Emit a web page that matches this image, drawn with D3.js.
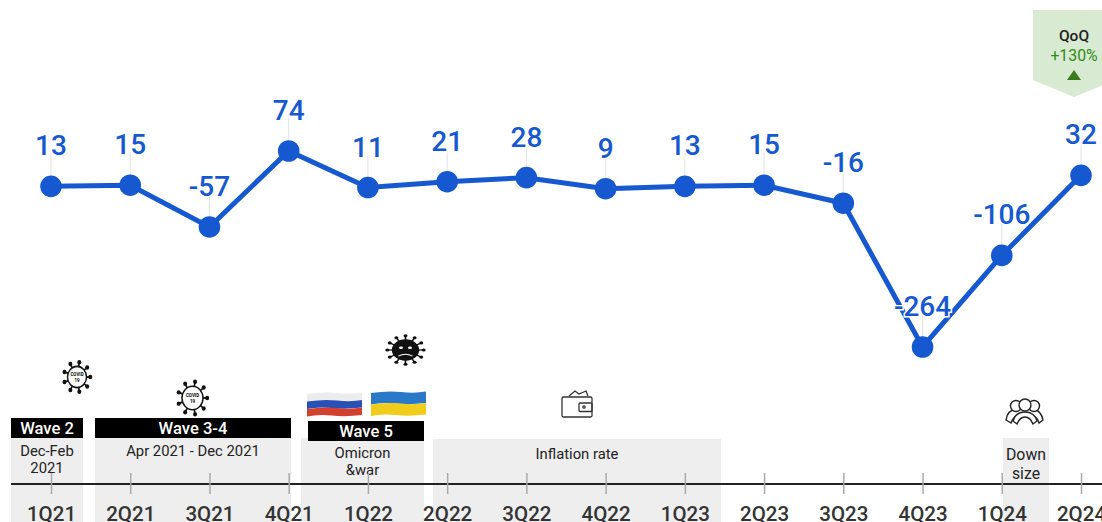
<!DOCTYPE html>
<html>
<head>
<meta charset="utf-8">
<script src="https://cdn.jsdelivr.net/npm/d3@7"></script>
<style>
  html, body { margin: 0; padding: 0; background: #fff; overflow: hidden; }
  svg { display: block; }
  text { font-family: Roboto, sans-serif; }
</style>
</head>
<body>
<svg id="chart" width="1102" height="522"></svg>
<script>
const quarters = ['1Q21', '2Q21', '3Q21', '4Q21', '1Q22', '2Q22', '3Q22', '4Q22', '1Q23', '2Q23', '3Q23', '4Q23', '1Q24', '2Q24'];
const values = [13, 15, -57, 74, 11, 21, 28, 9, 13, 15, -16, -264, -106, 32];
const waves = ['Wave 2', 'Wave 3-4', 'Wave 5'];
const eventNotes = [['Dec-Feb', '2021'], ['Apr 2021 - Dec 2021'], ['Omicron', '&war'], ['Inflation rate'], ['Down', 'size']];
const qoqTitle = 'QoQ';
const qoqChange = '+130%';

const BLUE = '#1558d0';
const BAND = '#eeeeee';
const GREEN = '#2f8a12';

const svg = d3.select('#chart');
const x = d3.scalePoint().domain(quarters).range([51, 1081]);
const y = d3.scaleLinear().domain([-264, 74]).range([347, 151]);

// grey bands sit behind the axis
const bands = [
  { x0: 11, x1: 83, top: 438, note: 0, textY: 456, gap: 17, size: 14.8 },
  { x0: 95, x1: 291, top: 438, note: 1, textY: 456, gap: 17, size: 14.8 },
  { x0: 301, x1: 424, top: 438, note: 2, textY: 458, gap: 17, size: 14.8 },
  { x0: 433, x1: 721, top: 439, note: 3, textY: 459, gap: 17, size: 14.8 },
  { x0: 1003, x1: 1049, top: 438, note: 4, textY: 460, gap: 19, size: 15.8 }
];
svg.selectAll('.band')
  .data(bands)
  .enter()
  .append('rect')
  .attr('class', 'band')
  .attr('x', (d) => d.x0)
  .attr('y', (d) => d.top)
  .attr('width', (d) => d.x1 - d.x0)
  .attr('height', (d) => 522 - d.top)
  .attr('fill', BAND);

bands.forEach((b) => {
  const t = svg.append('text')
    .attr('text-anchor', 'middle')
    .attr('font-size', b.size)
    .attr('fill', '#222');
  eventNotes[b.note].forEach((line, i) => {
    t.append('tspan')
      .attr('x', (b.x0 + b.x1) / 2)
      .attr('y', b.textY + i * b.gap)
      .text(line);
  });
});

// black wave headers
const waveBoxes = [
  { x0: 11, x1: 83, top: 418, bottom: 438 },
  { x0: 95, x1: 291, top: 418, bottom: 438 },
  { x0: 308, x1: 424, top: 421, bottom: 441 }
];
waveBoxes.forEach((b, i) => {
  svg.append('rect')
    .attr('x', b.x0).attr('y', b.top)
    .attr('width', b.x1 - b.x0).attr('height', b.bottom - b.top)
    .attr('fill', '#000');
  svg.append('text')
    .attr('x', (b.x0 + b.x1) / 2)
    .attr('y', b.bottom - 4)
    .attr('text-anchor', 'middle')
    .attr('font-size', 16.6)
    .attr('font-weight', 500)
    .attr('fill', '#fff')
    .text(waves[i]);
});

// timeline axis
const axis = svg.append('g')
  .attr('transform', 'translate(0,484)')
  .call(d3.axisBottom(x).tickSize(10).tickPadding(0));
axis.select('.domain').remove();
axis.insert('line', ':first-child')
  .attr('x1', 11).attr('x2', 1102)
  .attr('stroke', '#222')
  .attr('stroke-width', 2);
axis.selectAll('.tick line')
  .attr('y1', -11)
  .attr('stroke', '#aaa')
  .attr('stroke-width', 1.5);
// labels run down to the picture's bottom edge, as in the reference
axis.selectAll('.tick text')
  .attr('dy', null)
  .attr('y', 36.5)
  .attr('font-family', 'Roboto, sans-serif')
  .attr('font-size', 20.5)
  .attr('font-weight', 500)
  .attr('fill', '#333');

// leader lines from each point up to its label
const labelGap = 33;
svg.selectAll('.leader')
  .data(values)
  .enter()
  .append('line')
  .attr('class', 'leader')
  .attr('x1', (_, i) => x(quarters[i]))
  .attr('x2', (_, i) => x(quarters[i]))
  .attr('y1', (d) => y(d))
  .attr('y2', (d) => y(d) - labelGap)
  .attr('stroke', '#e2e2e2')
  .attr('stroke-width', 1);

const line = d3.line()
  .x((_, i) => x(quarters[i]))
  .y((d) => y(d));

svg.append('path')
  .datum(values)
  .attr('fill', 'none')
  .attr('stroke', BLUE)
  .attr('stroke-width', 5)
  .attr('d', line);

svg.selectAll('.dot')
  .data(values)
  .enter()
  .append('circle')
  .attr('class', 'dot')
  .attr('cx', (_, i) => x(quarters[i]))
  .attr('cy', (d) => y(d))
  .attr('r', 10.8)
  .attr('fill', BLUE);

svg.selectAll('.value')
  .data(values)
  .enter()
  .append('text')
  .attr('class', 'value')
  .attr('x', (_, i) => x(quarters[i]))
  .attr('y', (d) => y(d) - 31)
  .attr('text-anchor', 'middle')
  .attr('font-size', 28)
  .attr('font-weight', 500)
  .attr('fill', BLUE)
  .attr('stroke', '#fff')
  .attr('stroke-width', 3)
  .attr('paint-order', 'stroke')
  .text((d) => d);

// QoQ callout
const qoqX = 1074;
svg.append('path')
  .attr('d', `M1033,10H1102V85.4L${qoqX},97L1033,80Z`)
  .attr('fill', '#d9ead3');
svg.append('text')
  .attr('x', qoqX).attr('y', 41)
  .attr('text-anchor', 'middle')
  .attr('font-size', 15.5)
  .attr('font-weight', 500)
  .attr('fill', '#222')
  .text(qoqTitle);
svg.append('text')
  .attr('x', qoqX).attr('y', 61)
  .attr('text-anchor', 'middle')
  .attr('font-size', 15.8)
  .attr('fill', GREEN)
  .text(qoqChange);
svg.append('path')
  .attr('d', `M${qoqX - 7},80L${qoqX},70L${qoqX + 7},80Z`)
  .attr('fill', '#3a7a1a');

// virus icons: ring with spikes
function drawVirus(cx, cy, r, solid, sy) {
  const g = svg.append('g').attr('transform', `translate(${cx},${cy}) scale(1,${sy})`);
  const spikes = d3.range(solid ? 12 : 9);
  spikes.forEach((i) => {
    const a = (i / spikes.length) * 2 * Math.PI;
    const inner = r - 1;
    const outer = r * 1.4;
    g.append('line')
      .attr('x1', Math.cos(a) * inner).attr('y1', Math.sin(a) * inner)
      .attr('x2', Math.cos(a) * outer).attr('y2', Math.sin(a) * outer)
      .attr('stroke', '#111').attr('stroke-width', 1.6);
    g.append('circle')
      .attr('cx', Math.cos(a) * outer).attr('cy', Math.sin(a) * outer)
      .attr('r', 2).attr('fill', '#111');
  });
  g.append('circle')
    .attr('r', r)
    .attr('fill', solid ? '#111' : '#fff')
    .attr('stroke', '#111')
    .attr('stroke-width', 1.4);
  return g;
}
[[77, 377, 9.5], [192.5, 398, 10.5]].forEach(([cx, cy, r]) => {
  const g = drawVirus(cx, cy, r, false, 1.12);
  g.append('text').attr('y', -0.5).attr('text-anchor', 'middle')
    .attr('font-size', 4.5).attr('font-weight', 700).text('COVID');
  g.append('text').attr('y', 4.5).attr('text-anchor', 'middle')
    .attr('font-size', 4.5).attr('font-weight', 700).text('19');
});
const sad = drawVirus(405.5, 350, 13, true, 0.78);
sad.append('ellipse').attr('cx', -4.5).attr('cy', -3).attr('rx', 2).attr('ry', 1.6).attr('fill', '#fff');
sad.append('ellipse').attr('cx', 4.5).attr('cy', -3).attr('rx', 2).attr('ry', 1.6).attr('fill', '#fff');
sad.append('path').attr('d', 'M-7,8Q0,3 7,8').attr('fill', 'none').attr('stroke', '#fff').attr('stroke-width', 1.2);

// flags
function drawFlag(x0, top, w, h, colors) {
  const stripe = h / colors.length;
  colors.forEach((c, i) => {
    const y0 = top + i * stripe;
    svg.append('path')
      .attr('d', `M${x0},${y0 + 1}Q${x0 + w * 0.3},${y0 - 1.5} ${x0 + w * 0.55},${y0}T${x0 + w},${y0 - 0.5}V${y0 + stripe - 0.5}Q${x0 + w * 0.7},${y0 + stripe + 1.5} ${x0 + w * 0.45},${y0 + stripe}T${x0},${y0 + stripe + 1}Z`)
      .attr('fill', c);
  });
}
drawFlag(307, 393, 55, 22.5, ['#ececec', '#2a4fb5', '#d2402f']);
drawFlag(371, 392, 55, 23, ['#2a78c8', '#f0cd1a']);

// wallet icon
const wallet = svg.append('g')
  .attr('fill', 'none').attr('stroke', '#333').attr('stroke-width', 1.3);
wallet.append('rect').attr('x', 562).attr('y', 397).attr('width', 30).attr('height', 20).attr('rx', 1.5);
wallet.append('path').attr('d', 'M569,396L575,391L579,394L586,391L588,396');
wallet.append('rect').attr('x', 579).attr('y', 403).attr('width', 13).attr('height', 8.5).attr('rx', 1);
wallet.append('circle').attr('cx', 584).attr('cy', 407).attr('r', 1.2);

// people icon
const people = svg.append('g')
  .attr('transform', 'translate(1,0)')
  .attr('fill', '#fff').attr('stroke', '#222').attr('stroke-width', 1.4);
people.append('path').attr('d', 'M1005,420C1006,412 1012,409 1017,408L1032,408C1037,410 1041,414 1042,420L1038,423C1036,416 1031,414 1024,414C1017,414 1012,416 1010,423Z');
people.append('circle').attr('cx', 1015).attr('cy', 406).attr('r', 5.5);
people.append('circle').attr('cx', 1033).attr('cy', 406).attr('r', 5.5);
people.append('path').attr('d', 'M1012,421C1014,414 1019,412 1024,412C1029,412 1034,414 1036,421L1032,424C1030,419 1027,417 1024,417C1021,417 1018,419 1016,424Z');
people.append('circle').attr('cx', 1024).attr('cy', 405).attr('r', 6);
</script>
</body>
</html>
